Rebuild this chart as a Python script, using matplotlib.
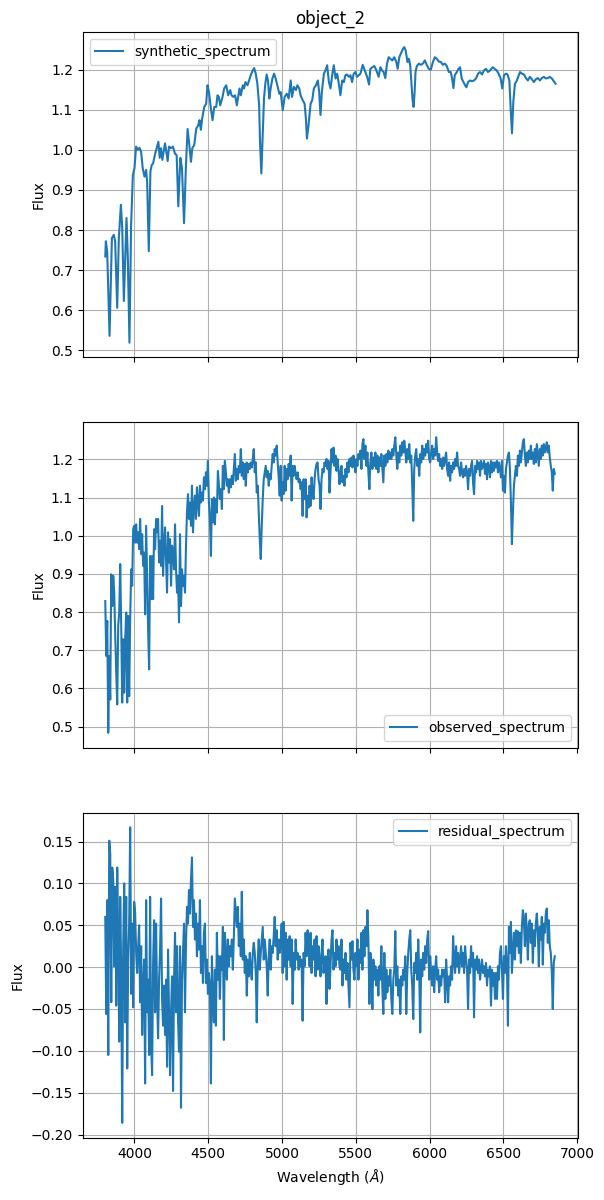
import numpy as np
import matplotlib
matplotlib.use("Agg")
import matplotlib.pyplot as plt

# synthetic spectrum (model)
syn_wave = [3802, 3806, 3815, 3831, 3847, 3860, 3869, 3883, 3894, 3908, 3917, 3928,
            3946, 3955, 3966, 3977, 3989, 4000, 4011, 4023, 4034, 4045, 4056, 4068,
            4079, 4086, 4097, 4108, 4117, 4126, 4140, 4153, 4162, 4171, 4180, 4189,
            4198, 4207, 4216, 4225, 4234, 4248, 4261, 4275, 4286, 4297, 4311, 4322,
            4336, 4349, 4360, 4372, 4383, 4392, 4405, 4419, 4432, 4441, 4450, 4459,
            4473, 4486, 4495, 4505, 4518, 4529, 4541, 4554, 4563, 4572, 4581, 4597,
            4608, 4622, 4635, 4649, 4658, 4671, 4682, 4694, 4703, 4712, 4721, 4734,
            4743, 4752, 4766, 4777, 4788, 4797, 4811, 4822, 4833, 4845, 4851, 4860,
            4869, 4878, 4887, 4896, 4905, 4914, 4923, 4935, 4946, 4957, 4968, 4982,
            4991, 5005, 5018, 5032, 5045, 5059, 5068, 5081, 5095, 5104, 5117, 5126,
            5140, 5153, 5162, 5169, 5180, 5194, 5205, 5216, 5230, 5243, 5252, 5261,
            5270, 5284, 5295, 5306, 5318, 5329, 5340, 5351, 5363, 5374, 5385, 5396,
            5408, 5419, 5430, 5441, 5453, 5464, 5475, 5486, 5498, 5509, 5520, 5532,
            5547, 5561, 5577, 5590, 5599, 5613, 5626, 5640, 5655, 5667, 5678, 5689,
            5700, 5712, 5723, 5734, 5748, 5761, 5775, 5784, 5795, 5806, 5820, 5829,
            5838, 5851, 5860, 5869, 5878, 5885, 5892, 5899, 5905, 5914, 5928, 5941,
            5955, 5968, 5982, 5995, 6009, 6023, 6036, 6050, 6063, 6077, 6090, 6104,
            6117, 6131, 6144, 6153, 6162, 6171, 6185, 6196, 6207, 6218, 6230, 6241,
            6250, 6261, 6275, 6288, 6302, 6315, 6329, 6342, 6356, 6369, 6383, 6396,
            6410, 6428, 6441, 6455, 6468, 6482, 6493, 6505, 6518, 6529, 6541, 6550,
            6559, 6568, 6579, 6590, 6601, 6613, 6626, 6640, 6653, 6667, 6680, 6694,
            6707, 6721, 6734, 6748, 6761, 6775, 6788, 6802, 6815, 6829, 6842, 6854]
syn_flux = [0.734, 0.772, 0.747, 0.536, 0.780, 0.788, 0.772, 0.606, 0.780, 0.863, 0.805, 0.623,
            0.830, 0.730, 0.519, 0.810, 0.937, 0.954, 1.008, 1.000, 1.005, 0.995, 0.954, 0.933,
            0.950, 0.920, 0.747, 0.946, 0.962, 0.966, 0.990, 1.008, 1.020, 0.980, 1.004, 0.975,
            0.995, 1.016, 0.995, 0.972, 1.008, 1.004, 1.008, 0.990, 0.987, 0.859, 0.980, 0.954,
            0.817, 0.962, 1.052, 1.012, 0.970, 1.004, 1.012, 1.053, 1.061, 1.074, 1.050, 1.078,
            1.107, 1.115, 1.161, 1.144, 1.103, 1.074, 1.107, 1.107, 1.136, 1.132, 1.111, 1.132,
            1.153, 1.161, 1.136, 1.149, 1.136, 1.132, 1.136, 1.111, 1.132, 1.153, 1.136, 1.161,
            1.153, 1.169, 1.161, 1.173, 1.186, 1.194, 1.204, 1.190, 1.165, 1.111, 1.020, 0.941,
            1.037, 1.128, 1.165, 1.188, 1.173, 1.128, 1.153, 1.178, 1.190, 1.178, 1.161, 1.140,
            1.144, 1.099, 1.132, 1.140, 1.128, 1.173, 1.132, 1.157, 1.149, 1.161, 1.153, 1.136,
            1.124, 1.115, 1.078, 1.028, 1.062, 1.115, 1.124, 1.153, 1.161, 1.173, 1.144, 1.087,
            1.144, 1.190, 1.198, 1.211, 1.169, 1.153, 1.186, 1.211, 1.178, 1.190, 1.165, 1.136,
            1.173, 1.169, 1.186, 1.188, 1.182, 1.186, 1.169, 1.190, 1.194, 1.182, 1.186, 1.190,
            1.212, 1.198, 1.182, 1.163, 1.202, 1.206, 1.209, 1.198, 1.182, 1.206, 1.198, 1.194,
            1.179, 1.215, 1.231, 1.227, 1.223, 1.231, 1.219, 1.202, 1.231, 1.240, 1.252, 1.256,
            1.248, 1.219, 1.227, 1.211, 1.161, 1.124, 1.107, 1.144, 1.194, 1.209, 1.215, 1.212,
            1.215, 1.223, 1.211, 1.202, 1.200, 1.219, 1.231, 1.227, 1.220, 1.219, 1.212, 1.215,
            1.209, 1.194, 1.194, 1.178, 1.154, 1.186, 1.194, 1.202, 1.206, 1.178, 1.169, 1.161,
            1.156, 1.169, 1.173, 1.171, 1.173, 1.178, 1.190, 1.194, 1.188, 1.198, 1.202, 1.194,
            1.198, 1.206, 1.202, 1.198, 1.190, 1.178, 1.153, 1.186, 1.190, 1.188, 1.173, 1.103,
            1.041, 1.120, 1.165, 1.171, 1.182, 1.194, 1.190, 1.188, 1.179, 1.173, 1.182, 1.176,
            1.169, 1.176, 1.179, 1.173, 1.179, 1.182, 1.178, 1.179, 1.182, 1.178, 1.171, 1.165]

# observed and residual spectra share one uniform wavelength sampling
wave_start, wave_end = 3802, 6849

obs_flux = [
    0.829, 0.685, 0.777, 0.484, 0.685, 0.571, 0.899, 0.816, 0.895, 0.851, 0.738, 0.641,
    0.558, 0.764, 0.799, 0.926, 0.764, 0.563, 0.729, 0.589, 0.729, 0.799, 0.563, 0.790,
    0.580, 0.781, 0.912, 0.869, 1.017, 1.026,
    0.982, 1.030, 0.982, 1.009, 0.965, 1.044, 0.952, 1.004, 0.921, 0.956, 0.794, 1.026,
    0.895, 0.755, 0.650, 0.947, 0.834, 0.947, 0.834, 1.017, 0.965, 1.044, 1.009, 1.044,
    0.930, 0.987, 0.921, 1.078, 0.895, 0.974, 1.022, 0.939, 0.851, 1.009, 0.930, 0.991,
    0.869, 0.974, 0.956, 0.912, 1.030, 0.912, 0.851, 0.895, 0.773, 1.004, 0.816, 0.912,
    0.869, 0.895, 0.851, 0.974, 1.061, 1.109, 1.044, 1.087, 1.026, 1.131, 1.009, 1.078,
    1.105, 1.044, 1.127, 1.087, 1.052, 1.131, 1.087, 1.113, 1.092, 1.153, 1.122, 1.166,
    1.131, 1.196, 1.087, 1.044, 0.947, 1.096, 1.035, 1.100, 1.030, 1.096, 1.061, 1.170,
    1.131, 1.096, 1.122, 1.070, 1.183, 1.122, 1.196, 1.166, 1.131, 1.148, 1.113, 1.148,
    1.127, 1.157, 1.135, 1.175, 1.214, 1.144, 1.175, 1.148, 1.183, 1.166, 1.227, 1.157,
    1.192, 1.148, 1.188, 1.131, 1.192, 1.166, 1.188, 1.175, 1.192, 1.179, 1.201, 1.227,
    1.166, 1.192, 1.113, 1.131, 1.061, 0.991, 0.939, 1.026, 1.096, 1.148, 1.166, 1.183,
    1.153, 1.170, 1.131, 1.162, 1.148, 1.183, 1.214, 1.192, 1.227, 1.210, 1.236, 1.192,
    1.153, 1.105, 1.183, 1.092, 1.140, 1.109, 1.183, 1.118, 1.175, 1.148, 1.188, 1.157,
    1.210, 1.092, 1.183, 1.157, 1.183, 1.162, 1.148, 1.166, 1.140, 1.148, 1.122, 1.140,
    1.052, 1.148, 1.096, 1.148, 1.048, 1.105, 1.074, 1.131, 1.078, 1.153, 1.113, 1.096,
    1.148, 1.175, 1.188, 1.192, 1.148, 1.131, 1.070, 1.148, 1.175, 1.166, 1.192, 1.183,
    1.201, 1.175, 1.196, 1.113, 1.166, 1.227, 1.192, 1.231, 1.183, 1.210, 1.170, 1.201,
    1.175, 1.135,
    1.162, 1.183, 1.140, 1.157, 1.131, 1.175, 1.153, 1.192, 1.166, 1.201, 1.183, 1.205,
    1.179, 1.210, 1.192, 1.166, 1.201, 1.183, 1.214, 1.201, 1.223, 1.175, 1.240, 1.253,
    1.201, 1.236, 1.183, 1.218, 1.166, 1.122, 1.192, 1.218, 1.175, 1.205, 1.183, 1.218,
    1.175, 1.210, 1.166, 1.205, 1.183, 1.214, 1.175, 1.140, 1.210, 1.183, 1.214, 1.192,
    1.223, 1.201, 1.218, 1.201, 1.227, 1.210, 1.236, 1.258, 1.210, 1.175, 1.218, 1.192,
    1.236, 1.210, 1.245, 1.218, 1.249, 1.223, 1.192, 1.227, 1.201, 1.240, 1.192, 1.210,
    1.131, 1.039, 1.175, 1.210, 1.227, 1.183, 1.201, 1.157, 1.214, 1.192, 1.236, 1.201,
    1.227, 1.210, 1.240, 1.218, 1.249, 1.201, 1.192, 1.218, 1.236, 1.201, 1.227, 1.210,
    1.258, 1.218, 1.196, 1.214, 1.183, 1.201, 1.175, 1.205, 1.183, 1.201, 1.218, 1.175,
    1.157, 1.192, 1.144, 1.183, 1.166, 1.192, 1.175, 1.201, 1.183, 1.218, 1.183, 1.175,
    1.157, 1.192, 1.166, 1.153, 1.175, 1.157, 1.183, 1.166, 1.122, 1.175, 1.157, 1.183,
    1.196, 1.140, 1.109, 1.183, 1.166, 1.196, 1.175, 1.192, 1.157, 1.196, 1.175, 1.183,
    1.196, 1.162, 1.188, 1.148, 1.192, 1.179, 1.153, 1.196, 1.166, 1.192, 1.170, 1.192,
    1.179, 1.196, 1.166, 1.192, 1.175, 1.153, 1.196, 1.118, 1.157, 1.113, 1.175, 1.192,
    1.210, 1.218, 1.175, 1.087, 0.978, 1.061, 1.131, 1.157, 1.183, 1.157, 1.210, 1.183,
    1.223, 1.192, 1.218, 1.245, 1.253, 1.210, 1.183, 1.218, 1.192, 1.223, 1.201, 1.236,
    1.201, 1.218, 1.188, 1.227, 1.192, 1.240, 1.210, 1.183, 1.227, 1.201, 1.236, 1.210,
    1.240, 1.218, 1.227, 1.245, 1.218, 1.236, 1.205, 1.183, 1.166, 1.118, 1.175, 1.162]

res_flux = [
    0.060, -0.056, 0.080, -0.105, 0.151, 0.135, -0.042, 0.119, 0.104, 0.001, 0.096, -0.046,
    0.119, 0.033, -0.089, 0.084, -0.007, -0.186, 0.025, 0.100, -0.066, 0.084, -0.121, 0.009,
    0.052, 0.167, -0.032, 0.052, -0.048, 0.078,
    0.064, 0.017, -0.007, 0.025, 0.050, -0.042, 0.025, -0.081, -0.022, 0.009, -0.139, 0.080,
    -0.054, -0.015, -0.105, 0.084, -0.093, -0.129, 0.005, 0.056, -0.054, 0.052, -0.038, -0.085,
    -0.015, 0.021, 0.082, -0.038, -0.070, -0.022, -0.081, -0.015, -0.119, 0.021, -0.054, -0.129,
    -0.054, -0.011, -0.148, -0.015, 0.041, -0.054, 0.025, -0.062, -0.101, 0.025, -0.168, -0.015,
    0.017, 0.052, -0.054, 0.029, 0.072, 0.052, 0.092, 0.064, 0.104, 0.131, 0.048, 0.080,
    0.033, 0.064, 0.013, 0.052, 0.021, 0.080, -0.007, 0.025, -0.019, 0.041, 0.052, -0.019,
    0.009, -0.032, -0.007, -0.022, -0.139, 0.013, -0.038, -0.066, -0.003, -0.070, 0.041, -0.015,
    0.013, -0.038, 0.013, -0.003, 0.048, -0.087, 0.041, 0.017, -0.015, 0.033, 0.001, 0.025,
    0.013, 0.033, -0.003, 0.035, 0.082, 0.064, 0.048, 0.072, 0.025, 0.052, 0.013, 0.090,
    0.009, 0.033, -0.007, 0.013, -0.034, 0.009, -0.011, 0.017, -0.003, -0.015, 0.017, 0.029,
    0.017, -0.007, -0.066, 0.009, 0.033, -0.003, 0.017, 0.033, 0.048, 0.009, 0.033, 0.017,
    0.001, -0.034, 0.013, 0.033, -0.003, 0.025, 0.017, 0.037, 0.060, 0.025, 0.044, 0.009,
    0.033, 0.017, 0.029, 0.052, -0.007, 0.054, 0.001, 0.041, -0.015, 0.033, 0.009, 0.037,
    0.001, 0.033, -0.044, 0.017, -0.003, 0.033, 0.009, 0.017, -0.003, 0.013, 0.001, 0.009,
    -0.064, 0.017, 0.001, 0.041, 0.013, 0.044, 0.033, 0.001, 0.041, -0.007, 0.025, 0.009,
    0.033, -0.011, 0.037, -0.003, 0.025, 0.009, -0.011, 0.017, 0.033, -0.007, 0.009, 0.013,
    -0.044, 0.009, 0.021, -0.026, 0.001, 0.033, 0.044, -0.003, 0.017, 0.001, 0.033, 0.009,
    0.025, 0.001,
    -0.003, 0.033, -0.022, 0.009, -0.007, 0.017, -0.015, 0.005, -0.022, -0.048, 0.029, 0.009,
    0.031, -0.003, -0.015, 0.017, 0.001, 0.033, -0.015, 0.021, 0.005, 0.041, -0.003, 0.044,
    0.013, 0.048, 0.025, 0.068, 0.033, -0.044, 0.017, -0.003, -0.050, 0.009, -0.015, 0.001,
    -0.022, -0.003, -0.034, 0.001, -0.015, 0.025, -0.026, -0.056, 0.017, -0.038, -0.003, -0.030,
    -0.011, -0.022, -0.003, -0.038, -0.056, -0.015, -0.003, 0.043, -0.022, 0.001, -0.034, -0.015,
    -0.056, -0.011, -0.022, -0.003, -0.015, 0.013, -0.056, -0.007, 0.017, 0.033, 0.044, -0.003,
    -0.022, -0.062, 0.005, -0.007, 0.017, -0.015, 0.033, -0.007, -0.078, 0.009, -0.011, 0.017,
    -0.003, 0.025, 0.005, 0.033, 0.043, -0.015, 0.013, -0.007, -0.022, 0.001, -0.030, -0.003,
    0.013, -0.015, -0.003, -0.030, -0.011, -0.022, -0.003, -0.011, -0.003, -0.042, 0.009, -0.015,
    -0.042, -0.011, -0.022, 0.001, -0.015, 0.037, 0.009, -0.007, 0.025, 0.001, 0.017, -0.007,
    0.009, 0.025, 0.001, 0.017, -0.007, 0.025, 0.009, -0.003, -0.050, 0.009, -0.007, 0.025,
    0.001, 0.017, -0.060, 0.009, -0.003, 0.013, -0.007, 0.009, -0.015, -0.003, 0.009, -0.007,
    0.001, -0.011, 0.005, -0.022, -0.003, -0.011, 0.001, -0.046, -0.003, -0.022, -0.007, -0.038,
    -0.007, -0.038, 0.001, -0.015, 0.017, 0.025, -0.003, -0.038, 0.013, -0.007, 0.025, 0.001,
    -0.070, 0.048, 0.017, 0.054, -0.007, 0.017, 0.041, 0.009, 0.044, 0.025, 0.043, 0.017,
    0.041, 0.005, 0.048, 0.068, 0.056, 0.025, 0.064, 0.041, 0.009, 0.052, 0.056, 0.029,
    0.052, 0.005, 0.044, 0.025, 0.052, 0.064, 0.041, 0.001, 0.048, 0.033, 0.060, 0.003,
    0.052, 0.041, 0.064, 0.070, 0.029, 0.056, 0.025, 0.017, -0.005, -0.050, 0.005, 0.013]

obs_wave = np.linspace(wave_start, wave_end, len(obs_flux))
res_wave = np.linspace(wave_start, wave_end, len(res_flux))

fig, axes = plt.subplots(3, 1, figsize=(6.04, 12), dpi=100, sharex=True)
fig.subplots_adjust(left=0.137, right=0.957, top=0.973, bottom=0.052, hspace=0.2)

axes[0].plot(syn_wave, syn_flux, label="synthetic_spectrum")
axes[0].set_title("object_2")
axes[0].legend(loc="upper left")

axes[1].plot(obs_wave, obs_flux, label="observed_spectrum")
axes[1].legend(loc="lower right")

axes[2].plot(res_wave, res_flux, label="residual_spectrum")
axes[2].legend(loc="upper right")
axes[2].set_xlabel(r"Wavelength ($\AA$)")

for ax in axes:
    ax.set_ylabel("Flux")
    ax.grid(True)

plt.savefig("out.png", dpi=100)
